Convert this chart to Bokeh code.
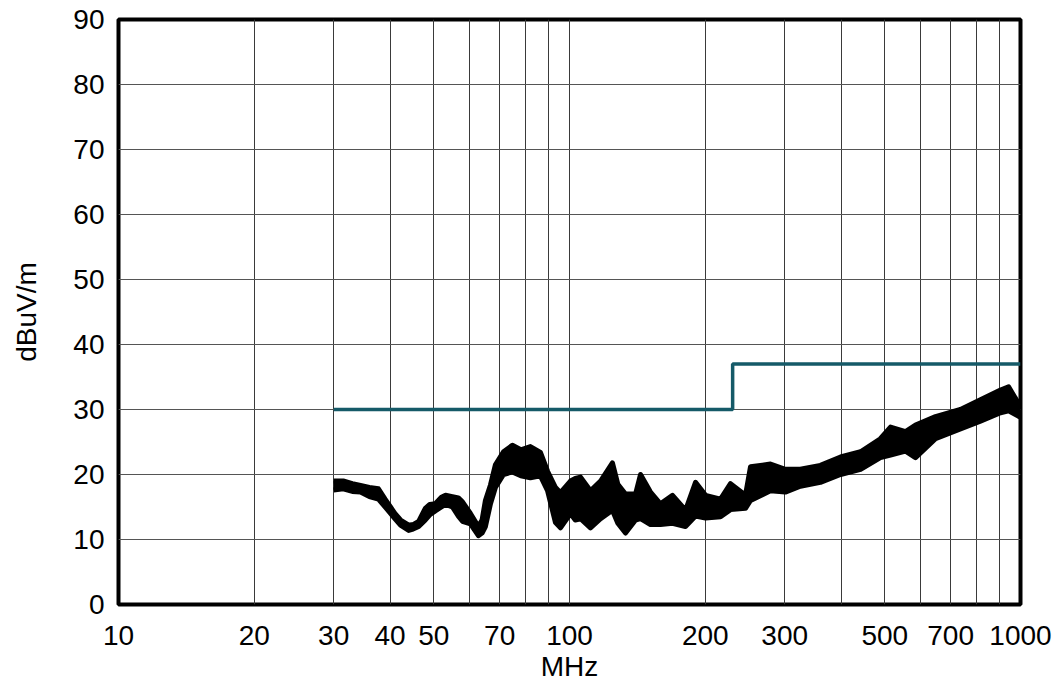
from bokeh.plotting import figure
from bokeh.models import Range1d, FixedTicker, NumeralTickFormatter
from bokeh.embed import file_html
from bokeh.resources import INLINE

# ---- data ----
x_tick_labels = [10, 20, 30, 40, 50, 70, 100, 200, 300, 500, 700, 1000]
x_grid_values = [10, 20, 30, 40, 50, 60, 70, 80, 90,
                 100, 200, 300, 400, 500, 600, 700, 800, 900, 1000]
y_ticks = [0, 10, 20, 30, 40, 50, 60, 70, 80, 90]

limit_freq = [30, 230, 230, 1000]
limit_level = [30, 30, 37, 37]

trace_freq = [30, 31.5, 33, 34.4, 36, 37.7, 39, 40.1, 41, 42.2, 44, 45, 46.3,
              47.9, 49, 50.4, 52, 53.1, 55, 56.7, 57.9, 60.3, 62.8, 64, 65.1,
              66.8, 68.5, 71.4, 74.7, 78, 81.9, 86.2, 89.4, 93.1, 95.5, 100.5,
              103, 105.8, 111.3, 117.2, 124.5, 128, 133.1, 140.1, 143.7, 151.2,
              159.1, 169.2, 180.8, 190.3, 200.3, 216.2, 227.5, 245.6, 252, 279,
              301, 325, 360, 399, 442, 489, 515, 556, 585, 648, 736, 815, 903,
              941, 1000]
trace_upper = [19.0, 19.0, 18.6, 18.3, 18.0, 17.8, 16.2, 15.0, 14.0, 13.0, 12.2,
               12.3, 12.8, 14.8, 15.4, 15.5, 16.5, 16.8, 16.6, 16.4, 15.8, 14.0,
               12.0, 13.0, 16.0, 18.4, 21.5, 23.5, 24.5, 23.8, 24.3, 23.4, 20.5,
               18.0, 17.2, 19.0, 19.4, 19.6, 17.5, 19.0, 21.8, 18.5, 17.0, 17.0,
               20.0, 17.3, 15.5, 16.8, 14.5, 18.8, 16.8, 16.2, 18.6, 16.8, 21.2,
               21.6, 20.8, 20.8, 21.4, 22.7, 23.5, 25.5, 27.3, 26.6, 27.6, 28.9,
               30.0, 31.5, 33.0, 33.5, 30.4]
trace_lower = [17.6, 17.8, 17.4, 17.3, 16.6, 16.2, 15.0, 14.0, 13.2, 12.2, 11.4,
               11.6, 12.0, 13.0, 13.8, 14.4, 15.0, 15.4, 15.0, 13.6, 12.8, 12.4,
               10.6, 11.0, 12.0, 15.5, 18.0, 20.0, 20.4, 19.8, 19.5, 19.8, 17.5,
               12.6, 11.8, 14.0, 13.0, 13.2, 11.8, 13.2, 14.5, 12.5, 11.0, 13.0,
               13.2, 12.3, 12.3, 12.5, 12.0, 13.6, 13.3, 13.5, 14.6, 14.8, 16.0,
               17.5, 17.3, 18.2, 18.8, 20.0, 20.8, 22.6, 23.0, 23.6, 22.6, 25.5,
               27.0, 28.2, 29.5, 29.8, 28.8]

FONT = "Liberation Sans"

p = figure(x_axis_type="log", x_range=Range1d(10, 1000), y_range=Range1d(0, 90),
           frame_width=902, frame_height=585,
           min_border_left=118, min_border_top=19, min_border_right=40,
           min_border_bottom=80,
           output_backend="svg", toolbar_location=None)

p.background_fill_color = "white"
p.border_fill_color = "white"
p.outline_line_color = "black"
p.outline_line_width = 4

# grids
p.xgrid.ticker = FixedTicker(ticks=x_grid_values)
p.ygrid.ticker = FixedTicker(ticks=y_ticks)
p.xgrid.grid_line_color = "#3a3a3a"
p.ygrid.grid_line_color = "#555555"
p.xgrid.grid_line_width = 1
p.ygrid.grid_line_width = 1

# axes
p.xaxis.ticker = FixedTicker(ticks=x_tick_labels)
p.yaxis.ticker = FixedTicker(ticks=y_ticks)
p.xaxis.formatter = NumeralTickFormatter(format="0")
p.yaxis.formatter = NumeralTickFormatter(format="0")
for ax in (p.xaxis[0], p.yaxis[0]):
    ax.axis_line_color = None
    ax.major_tick_line_color = None
    ax.minor_tick_line_color = None
    ax.major_tick_out = 0
    ax.major_tick_in = 0
    ax.major_label_text_font = FONT
    ax.major_label_text_font_size = "28px"
    ax.major_label_text_color = "black"
    ax.axis_label_text_font = FONT
    ax.axis_label_text_font_size = "28px"
    ax.axis_label_text_font_style = "normal"
    ax.axis_label_text_color = "black"

p.xaxis.axis_label = "MHz"
p.yaxis.axis_label = "dBuV/m"
p.xaxis.major_label_standoff = 21
p.yaxis.major_label_standoff = 14
p.xaxis.axis_label_standoff = 3
p.yaxis.axis_label_standoff = 28

# limit line
p.line(limit_freq, limit_level, line_color="#155a68", line_width=3.5)

# measured trace (noise band)
p.varea(x=trace_freq, y1=trace_lower, y2=trace_upper, fill_color="black")
p.line(trace_freq, trace_upper, line_color="black", line_width=5, line_join="round")
p.line(trace_freq, trace_lower, line_color="black", line_width=5, line_join="round")

open("out.html", "w").write(file_html(p, INLINE))
